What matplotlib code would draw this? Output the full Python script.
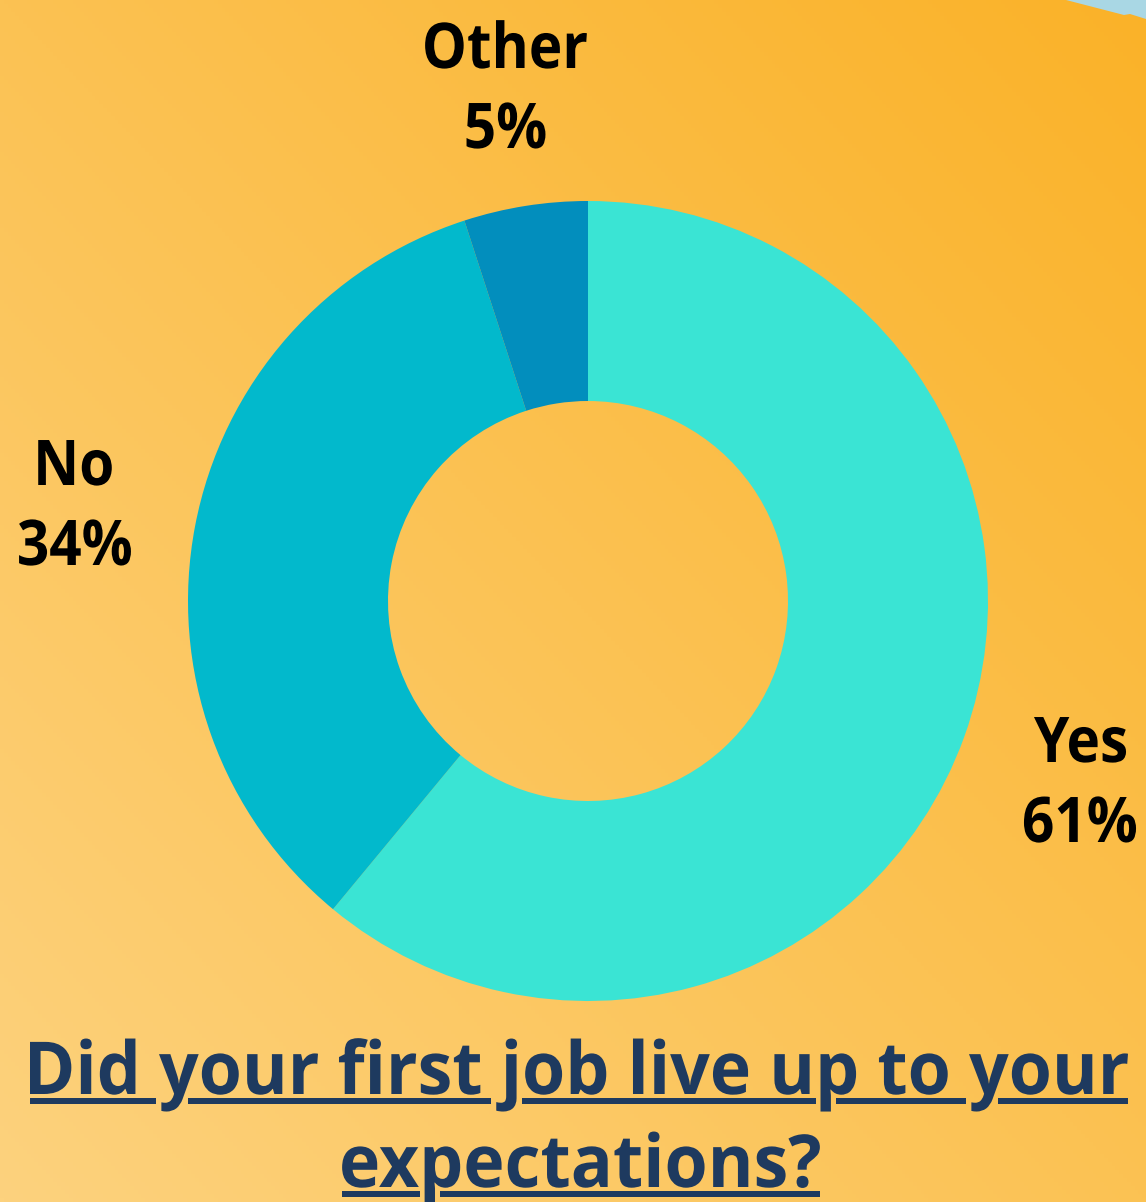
import matplotlib
matplotlib.use("Agg")
import matplotlib.pyplot as plt
import numpy as np
from matplotlib.font_manager import FontProperties
from matplotlib.patches import PathPatch, Polygon, Rectangle
from matplotlib.textpath import TextPath
from matplotlib.transforms import Affine2D

W, H = 1146, 1202

labels = ["Yes", "No", "Other"]
shares = [61, 34, 5]
slice_colors = ["#3AE4D4", "#02B9CC", "#028EBD"]
title_lines = ["Did your first job live up to your", "expectations?"]

BOLD = FontProperties(family="Open Sans", weight="bold")
INK = "#000000"
NAVY = "#1E3A5F"


def text_path(s, prop=BOLD):
    return TextPath((0, 0), s, size=1, prop=prop)


def draw_text(ax, s, cx, baseline, em, color, squeeze=0.9):
    """Draw s as a filled outline, centred on cx, baseline in pixels from top."""
    path = text_path(s)
    ext = path.get_extents()
    sx = em * squeeze
    x0 = cx - ext.width * sx / 2 - ext.x0 * sx
    tr = Affine2D().scale(sx, em).translate(x0, H - baseline)
    glyphs = tr.transform_path(path)
    ax.add_patch(PathPatch(glyphs, fc=color, lw=0, zorder=5))
    return glyphs


def draw_underline(ax, glyphs, baseline, color, thick=6, offset=4, pad=5):
    """Underline that breaks around descenders crossing it (skip-ink)."""
    ext = glyphs.get_extents()
    top = H - baseline - offset
    bot = top - thick
    gaps = []
    for poly in glyphs.to_polygons(closed_only=True):
        # densify the outline so the band test catches long straight edges
        pts = np.concatenate([np.linspace(poly[i], poly[i + 1], 12)
                              for i in range(len(poly) - 1)])
        hit = pts[(pts[:, 1] <= top + 2) & (pts[:, 1] >= bot - 2)]
        if len(hit):
            gaps.append((hit[:, 0].min() - pad, hit[:, 0].max() + pad))
    gaps.sort()
    cur = ext.x0
    for a, b in gaps:
        if a > cur:
            ax.add_patch(Rectangle((cur, bot), a - cur, thick, fc=color, lw=0, zorder=5))
        cur = max(cur, b)
    if ext.x1 > cur:
        ax.add_patch(Rectangle((cur, bot), ext.x1 - cur, thick, fc=color, lw=0, zorder=5))


fig = plt.figure(figsize=(W / 100, H / 100), dpi=100)
ax = fig.add_axes([0, 0, 1, 1])

# warm diagonal background, pale at lower left, deeper orange at upper right
xx, yy = np.meshgrid(np.linspace(0, 1, 300), np.linspace(1, 0, 300))
t = ((xx + yy) / 2)[..., None]
c0 = np.array([253, 210, 126]) / 255
c1 = np.array([250, 178, 40]) / 255
ax.imshow(c0 + (c1 - c0) * t, extent=(0, W, 0, H), aspect="auto", zorder=0)

# light blue shape peeking in at the top right corner
ax.add_patch(Polygon([(1066, H), (1124, H - 15), (1130, H - 14), (W, H - 19), (W, H)],
                     closed=True, fc="#A9D7E4", lw=0, zorder=1))

ax.pie(shares, colors=slice_colors, startangle=90, counterclock=False,
       radius=400, center=(588, H - 601),
       wedgeprops=dict(width=200, linewidth=0, zorder=2))

label_spots = {"Yes": (1080, 762), "No": (75, 485), "Other": (506, 68)}
for name, val in zip(labels, shares):
    cx, base = label_spots[name]
    draw_text(ax, name, cx, base, 63, INK)
    draw_text(ax, f"{val}%", cx, base + 80, 63, INK)

# title, fitted to the width of the chart and underlined
p1 = text_path(title_lines[0]).get_extents()
em_t = 73
sq = (1128 - 30) / (p1.width * em_t)
for line, base, cx in zip(title_lines, [1094, 1187], [579, 581]):
    g = draw_text(ax, line, cx, base, em_t, NAVY, squeeze=sq)
    draw_underline(ax, g, base, NAVY)

ax.set_xlim(0, W)
ax.set_ylim(0, H)
ax.set_aspect("auto")
ax.axis("off")
fig.savefig("out.png", dpi=100)
